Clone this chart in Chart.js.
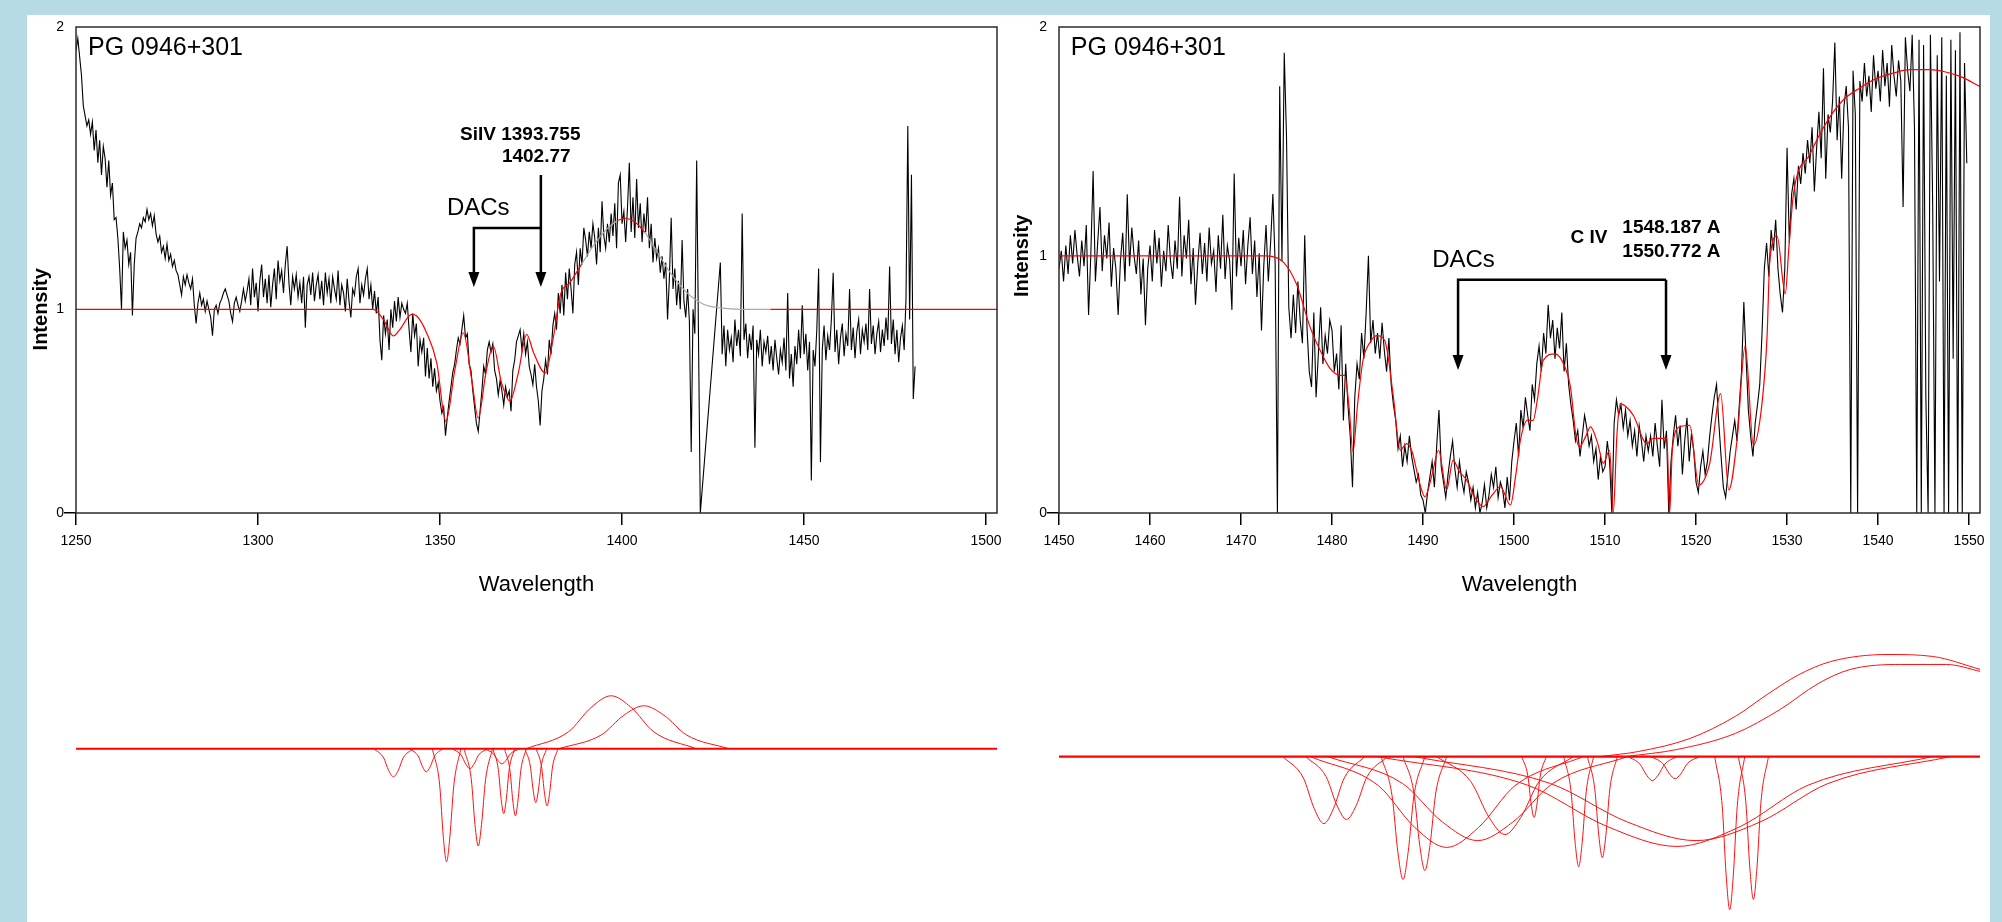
<!DOCTYPE html>
<html>
<head>
<meta charset="utf-8">
<title>PG 0946+301 DACs</title>
<script src="https://cdn.jsdelivr.net/npm/chart.js@4.4.1/dist/chart.umd.min.js"></script>
<style>
  html, body { margin: 0; padding: 0; }
  body { width: 2002px; height: 922px; background: #b7dbe5; position: relative; overflow: hidden; }
  #panel { position: absolute; left: 27px; top: 15px; width: 1963px; height: 907px; background: #fff; }
  canvas { position: absolute; }
</style>
</head>
<body>
<div id="panel"></div>
<canvas id="siTop" width="1030" height="620" style="left:0;top:0"></canvas>
<canvas id="civTop" width="1002" height="620" style="left:1000px;top:0"></canvas>
<canvas id="siComp" width="1030" height="302" style="left:0;top:620px"></canvas>
<canvas id="civComp" width="1002" height="302" style="left:1000px;top:620px"></canvas>
<script>
const FONT = "Arial, 'Liberation Sans', sans-serif";

// ---- Si IV window (left) ----
const siStart = 1250, siStep = 0.5;
const siFlux = [
  2.27, 2.33, 2.24, 2.15, 2.0, 1.95, 1.9, 1.93, 1.86, 1.92, 1.78, 1.88, 1.72, 1.83, 1.66, 1.8, 1.74, 1.6, 1.73, 1.56,
  1.62, 1.44, 1.45, 1.35, 1.2, 1.0, 1.38, 1.3, 1.34, 1.22, 1.28, 0.97, 1.22, 1.35, 1.38, 1.42, 1.4, 1.45, 1.43, 1.49,
  1.44, 1.47, 1.41, 1.46, 1.37, 1.33, 1.36, 1.28, 1.31, 1.25, 1.32, 1.24, 1.27, 1.21, 1.24, 1.19, 1.17, 1.12, 1.07, 1.16,
  1.12, 1.17, 1.13, 1.1, 1.15, 1.02, 0.93, 1.03, 1.08, 1.02, 1.05, 0.99, 1.04, 1.0, 0.96, 0.87, 1.0, 1.02, 0.98, 1.03,
  1.05, 1.08, 1.1, 1.07, 1.04, 0.98, 0.94, 1.03, 1.06, 1.02, 0.99, 1.04, 1.1, 1.04, 1.09, 1.15, 1.02, 1.2, 1.06, 1.13,
  0.99, 1.14, 1.22, 1.06, 1.15, 1.03, 1.17, 1.01, 1.12, 1.2, 1.05, 1.24, 1.14, 1.19, 1.08, 1.22, 1.31, 1.13, 1.02, 1.16,
  1.1, 1.17, 1.06, 1.13, 1.03, 1.16, 0.91, 1.12, 1.16, 1.07, 1.18, 1.04, 1.12, 1.17, 1.05, 1.14, 1.02, 1.18, 1.08, 1.15,
  1.03, 1.16, 1.1, 1.05, 1.19, 1.02, 1.12, 1.08, 0.99, 1.15, 1.04, 0.96, 1.1, 1.07, 1.16, 1.2, 1.03, 1.12, 1.07, 1.15,
  1.2, 1.05, 1.12, 1.0, 1.09, 0.98, 1.06, 0.85, 0.75, 0.97, 0.88, 0.95, 0.8, 1.0, 0.91, 1.04, 0.94, 1.06, 0.96, 1.03,
  1.0, 0.98, 1.03, 0.9, 0.79, 0.98, 0.87, 0.93, 0.72, 0.85, 0.79, 0.86, 0.67, 0.81, 0.66, 0.76, 0.62, 0.71, 0.6, 0.64,
  0.55, 0.49, 0.52, 0.38, 0.47, 0.55, 0.62, 0.69, 0.73, 0.8, 0.86, 0.83, 0.9, 0.97, 0.86, 0.88, 0.73, 0.7, 0.6, 0.52,
  0.44, 0.4, 0.5, 0.6, 0.72, 0.68, 0.8, 0.84, 0.79, 0.83, 0.7, 0.66, 0.58, 0.65, 0.6, 0.53, 0.62, 0.57, 0.6, 0.5,
  0.7, 0.75, 0.84, 0.87, 0.9, 0.8, 0.88, 0.78, 0.84, 0.72, 0.68, 0.63, 0.73, 0.62, 0.55, 0.43, 0.6, 0.66, 0.75, 0.68,
  0.85, 0.78, 0.92, 0.98, 0.9, 1.08, 0.98, 1.12, 0.97, 1.18, 1.05, 1.2, 1.1, 0.98, 1.22, 1.28, 1.12, 1.3, 1.22, 1.4,
  1.34, 1.26, 1.38, 1.3, 1.42, 1.35, 1.22, 1.4, 1.28, 1.53, 1.36, 1.3, 1.42, 1.33, 1.47, 1.36, 1.52, 1.3, 1.62, 1.66,
  1.42, 1.48, 1.33, 1.5, 1.72, 1.38, 1.55, 1.35, 1.64, 1.4, 1.52, 1.33, 1.47, 1.38, 1.55, 1.3, 1.42, 1.23, 1.35, 1.25,
  1.3, 1.18, 1.26, 1.15, 1.23, 0.95, 1.15, 1.45, 1.1, 1.2, 1.02, 1.14, 1.0, 1.34, 1.04, 0.96, 1.1, 0.94, 0.3, 1.0,
  0.88, 1.73, null, 0.0, null, null, null, null, null, null, null, null, null, null, 1.23, 0.78, 0.92, 0.72, 0.9, 0.8,
  0.86, 0.74, 0.95, 0.82, 0.9, 0.77, 1.47, 0.85, 0.93, 0.76, 0.88, 0.8, 0.92, 0.32, 0.85, 0.78, 0.9, 0.72, 0.84, 0.79,
  0.87, 0.73, 0.82, 0.7, 0.85, 0.76, 0.68, 0.8, 0.74, 0.86, 0.7, 1.08, 0.66, 0.78, 0.62, 0.82, 0.73, 0.9, 0.76, 1.02,
  0.78, 0.88, 0.7, 0.84, 0.16, 0.8, 0.72, 0.9, 1.2, 0.25, 0.8, 0.92, 0.75, 0.87, 0.8, 0.95, 1.18, 0.79, 0.9, 0.73,
  0.86, 0.93, 0.77, 0.88, 0.82, 1.1, 0.8, 0.91, 0.76, 0.89, 0.95, 0.78, 0.9, 0.84, 0.93, 0.8, 1.1, 0.83, 0.92, 0.78,
  0.88, 0.94, 0.79, 0.9, 0.82, 0.96, 0.85, 1.21, 0.83, 0.95, 0.78, 0.9, 0.74, 0.86, 0.92, 0.8, 1.05, 1.9, 0.95, 1.66,
  0.56, 0.72
];
const siFit = [[1250, 1], [1331.7, 1], [1334.4, 0.951], [1337.2, 0.869], [1339, 0.902], [1342.2, 0.975], [1343.6, 0.967],
  [1346.3, 0.885], [1349.1, 0.737], [1351.6, 0.45], [1354.1, 0.705], [1356.4, 0.885], [1358.7, 0.655], [1360.5, 0.466],
  [1362.6, 0.688], [1364.6, 0.82], [1366.9, 0.639], [1369.2, 0.55], [1371.5, 0.688], [1373.8, 0.877], [1375.7, 0.787],
  [1378.9, 0.688], [1381.2, 0.869], [1383, 1.066], [1385.7, 1.131], [1388.9, 1.222]];
const siFitGrey = [[1388.9, 1.222], [1392.1, 1.312], [1395.8, 1.394], [1398.6, 1.435]];
const siFitPeak = [[1398.6, 1.435], [1400.8, 1.447], [1403.6, 1.427], [1406.3, 1.378]];
const siFitTail = [[1406.3, 1.378], [1408.6, 1.312], [1413.2, 1.181], [1417.8, 1.082], [1422.4, 1.025], [1427, 1.007], [1433, 1.0], [1440.7, 1.0]];
const siContinuum = [[1440.7, 1], [1503, 1]];
const siXTicks = [1250, 1300, 1350, 1400, 1450, 1500];
const siYTicks = [0, 1, 2.386];
const yTickLabels = ['0', '1', '2'];

// ---- C IV window (right) ----
const civStart = 1450, civStep = 0.25;
const civFlux = [
  0.95, 1.02, 0.9, 1.04, 0.93, 1.08, 0.97, 1.1, 1.0, 0.92, 1.06, 0.96, 1.12, 0.77, 1.01, 1.33, 0.9, 1.05, 1.19, 0.94,
  1.08, 0.99, 1.13, 0.88, 1.03, 0.95, 0.77, 0.98, 1.09, 0.9, 1.24, 0.96, 1.11, 1.0, 0.93, 1.06, 0.85, 0.99, 0.73, 0.95,
  1.04, 0.9, 1.1, 0.97, 1.07, 0.88, 1.02, 0.94, 1.12, 0.98, 0.91, 1.06, 0.95, 1.23, 0.92, 1.08, 0.99, 1.14, 0.89, 1.03,
  0.81, 0.97, 1.09, 0.93, 1.05, 0.9, 1.11, 0.97, 1.02, 0.86, 1.08, 0.95, 1.16, 0.91, 1.04, 0.98, 0.79, 1.32, 0.92, 1.07,
  0.96, 1.1, 0.89, 1.04, 1.15, 0.93, 1.06, 0.84, 1.01, 0.71, 0.96, 1.12, 0.9, 1.05, 1.24, 0.97, 0.0, 1.66, 0.98, 1.79,
  1.46, 0.8, 0.68, 0.85, 0.7, 0.9, 0.75, 0.66, 1.08, 0.72, 0.55, 0.49, 0.78, 0.45, 0.62, 0.8, 0.58, 0.69, 0.62, 0.75,
  0.71, 0.55, 0.62, 0.48, 0.73, 0.36, 0.58, 0.42, 0.3, 0.1, 0.45, 0.58, 0.52, 0.7, 0.6, 0.78, 1.0, 0.66, 0.75, 0.62,
  0.7, 0.6, 0.74, 0.63, 0.55, 0.68, 0.5, 0.42, 0.36, 0.25, 0.3, 0.18, 0.26, 0.2, 0.3, 0.22, 0.17, 0.12, 0.15, 0.07,
  0.05, 0.0, 0.08, 0.14, 0.2, 0.1, 0.26, 0.4, 0.18, 0.12, 0.06, 0.15, 0.22, 0.28, 0.17, 0.1, 0.2, 0.13, 0.08, 0.16,
  0.12, 0.05, 0.1, 0.02, 0.08, 0.0, 0.04, 0.11, 0.02, 0.07, 0.15, 0.1, 0.18, 0.06, 0.12, 0.09, 0.02, 0.14, 0.05, 0.2,
  0.28, 0.35, 0.22, 0.4, 0.33, 0.45, 0.38, 0.32, 0.5, 0.44, 0.58, 0.65, 0.55, 0.7, 0.62, 0.81, 0.68, 0.75, 0.6, 0.72,
  0.64, 0.78, 0.55, 0.66, 0.5, 0.42, 0.36, 0.28, 0.32, 0.22, 0.3, 0.38, 0.33, 0.26, 0.3, 0.2, 0.25, 0.13, 0.22, 0.16,
  0.18, 0.28, 0.2, 0.0, 0.35, 0.44, 0.38, 0.42, 0.33, 0.4, 0.3, 0.36, 0.26, 0.32, 0.22, 0.34, 0.28, 0.2, 0.3, 0.24,
  0.3, 0.22, 0.35, 0.26, 0.18, 0.44, 0.25, 0.32, 0.0, 0.2, 0.3, 0.38, 0.26, 0.34, 0.15, 0.28, 0.37, 0.2, 0.31, 0.24,
  0.12, 0.08, 0.18, 0.24, 0.15, 0.2, 0.3, 0.38, 0.45, 0.5, 0.35, 0.22, 0.1, 0.06, 0.15, 0.24, 0.3, 0.36, 0.28, 0.42,
  0.55, 0.82, 0.6, 0.4, 0.3, 0.22, 0.35, 0.42, 0.5, 0.7, 0.95, 1.05, 0.92, 1.1, 1.02, 1.14, 0.95, 0.85, 0.78, 0.95,
  1.42, 1.05, 1.24, 1.3, 1.18, 1.35, 1.28, 1.4, 1.32, 1.45, 1.36, 1.5, 1.25, 1.42, 1.56, 1.38, 1.73, 1.3, 1.55, 1.48,
  1.6, 1.83, 1.45, 1.62, 1.3, 1.58, 1.66, 1.5, 0.0, 1.72, 1.55, 0.0, 1.68, 1.6, 1.75, 1.62, 1.7, 1.56, 1.78, 1.65,
  1.72, 1.6, 1.8, 1.66, 1.75, 1.58, 1.82, 1.7, 1.62, 1.76, 1.68, 1.19, 1.85, 1.72, 1.64, 1.86, 1.5, 0.0, 1.84, 0.0,
  1.82, 0.45, 0.0, 1.86, 1.2, 0.0, 1.78, 0.9, 1.85, 0.0, 1.7, 0.0, 1.84, 0.6, 1.8, 0.0, 1.87, 0.0, 1.75, 1.36
];
const civFit = [[1450, 1.0], [1472.8, 1.0], [1474.7, 0.974], [1476.1, 0.89], [1477.6, 0.722], [1478.7, 0.632], [1479.8, 0.561],
  [1480.9, 0.535], [1481.4, 0.535], [1481.9, 0.4], [1482.3, 0.238], [1482.8, 0.42], [1483.4, 0.593], [1484.2, 0.665],
  [1484.9, 0.69], [1485.8, 0.67], [1486.7, 0.464], [1487.5, 0.244], [1488.2, 0.27], [1488.8, 0.238], [1489.6, 0.12],
  [1490.2, 0.063], [1491, 0.15], [1491.7, 0.244], [1492.6, 0.09], [1493.3, 0.206], [1494, 0.16], [1494.8, 0.128],
  [1495.7, 0.06], [1496.6, 0.025], [1497.6, 0.07], [1498.5, 0.102], [1499.6, 0.031], [1500.2, 0.15], [1500.7, 0.283],
  [1501.5, 0.361], [1502.1, 0.36], [1502.6, 0.45], [1503.2, 0.593], [1504.5, 0.619], [1505.6, 0.567], [1506.2, 0.49],
  [1506.8, 0.3], [1507.2, 0.257], [1507.9, 0.3], [1508.4, 0.335], [1509.2, 0.27], [1509.8, 0.193], [1510.5, 0.244],
  [1510.9, 0.0], [1511.3, 0.3], [1511.65, 0.425], [1512.4, 0.41], [1513.1, 0.38], [1514.6, 0.27], [1515.3, 0.29],
  [1516.8, 0.29], [1517.1, 0.0], [1517.4, 0.25], [1518.2, 0.335], [1519.3, 0.341], [1520.3, 0.109], [1521.5, 0.193],
  [1522.7, 0.464], [1523.6, 0.09], [1524.5, 0.283], [1525.4, 0.651], [1526.3, 0.264], [1527.2, 0.412], [1527.8, 0.684],
  [1528.1, 0.981], [1528.9, 1.078], [1529.8, 0.852], [1530.2, 1.032], [1530.7, 1.239], [1532.5, 1.394], [1534.4, 1.523],
  [1536.2, 1.607], [1538, 1.653], [1539.9, 1.691], [1541.7, 1.711], [1543.5, 1.724], [1545.7, 1.724], [1547.2, 1.717],
  [1549, 1.698], [1551.2, 1.659]];
const civXTicks = [1450, 1460, 1470, 1480, 1490, 1500, 1510, 1520, 1530, 1540, 1550];
const civYTicks = [0, 1, 1.89];

// ---- fitted components (lower panels), continuum-subtracted ----
const siBase = [[1250, 0], [1503, 0]];
const siParts = [
  [[1331.8, 0], [1334.5, -0.037], [1335.9, -0.09], [1337.2, -0.115], [1338.5, -0.09], [1339.9, -0.037], [1342.6, 0]],
  [[1341.7, 0], [1344, -0.03], [1345.2, -0.074], [1346.2, -0.095], [1347.3, -0.074], [1348.5, -0.03], [1350.7, 0]],
  [[1347.9, 0], [1349.9, -0.149], [1350.9, -0.363], [1351.8, -0.465], [1352.7, -0.363], [1353.8, -0.149], [1355.7, 0]],
  [[1353.4, 0], [1355.8, -0.026], [1357.1, -0.064], [1358.2, -0.082], [1359.3, -0.064], [1360.6, -0.026], [1363, 0]],
  [[1356.6, 0], [1358.6, -0.128], [1359.6, -0.312], [1360.5, -0.4], [1361.4, -0.312], [1362.5, -0.128], [1364.4, 0]],
  [[1362.2, 0], [1364.6, -0.02], [1365.9, -0.048], [1367, -0.062], [1368.1, -0.048], [1369.4, -0.02], [1371.8, 0]],
  [[1364.5, 0], [1366, -0.085], [1366.8, -0.208], [1367.5, -0.267], [1368.2, -0.208], [1369, -0.085], [1370.5, 0]],
  [[1367.7, 0], [1369.2, -0.088], [1370, -0.215], [1370.7, -0.276], [1371.4, -0.215], [1372.2, -0.088], [1373.7, 0]],
  [[1373.3, 0], [1374.8, -0.071], [1375.6, -0.173], [1376.3, -0.222], [1377, -0.173], [1377.8, -0.071], [1379.3, 0]],
  [[1376.4, 0], [1377.9, -0.075], [1378.7, -0.183], [1379.4, -0.235], [1380.1, -0.183], [1380.9, -0.075], [1382.4, 0]],
  [[1373.6, 0], [1385.3, 0.07], [1391.5, 0.17], [1397, 0.218], [1402.5, 0.17], [1408.7, 0.07], [1420.4, 0]],
  [[1382.6, 0], [1394.3, 0.057], [1400.5, 0.138], [1406, 0.177], [1411.5, 0.138], [1417.7, 0.057], [1429.4, 0]]
];
const civBase = [[1450, 0], [1551.2, 0]];
const civParts = [
  [[1474.6, 0], [1476.85, -0.088], [1478.05, -0.215], [1479.1, -0.276], [1480.15, -0.215], [1481.35, -0.088], [1483.6, 0]],
  [[1477.1, 0], [1479.35, -0.083], [1480.55, -0.202], [1481.6, -0.259], [1482.65, -0.202], [1483.85, -0.083], [1486.1, 0]],
  [[1485.4, 0], [1486.6, -0.162], [1487.24, -0.395], [1487.8, -0.506], [1488.36, -0.395], [1489, -0.162], [1490.2, 0]],
  [[1487.8, 0], [1489, -0.15], [1489.64, -0.366], [1490.2, -0.469], [1490.76, -0.366], [1491.4, -0.15], [1492.6, 0]],
  [[1477.6, 0], [1485.1, -0.12], [1489.1, -0.292], [1492.6, -0.374], [1496.1, -0.292], [1500.1, -0.12], [1507.6, 0]],
  [[1479.5, 0], [1487.75, -0.111], [1492.15, -0.27], [1496, -0.346], [1499.85, -0.27], [1504.25, -0.111], [1512.5, 0]],
  [[1491.5, 0], [1495.25, -0.103], [1497.25, -0.25], [1499, -0.321], [1500.75, -0.25], [1502.75, -0.103], [1506.5, 0]],
  [[1500.85, 0], [1501.52, -0.08], [1501.88, -0.196], [1502.2, -0.251], [1502.52, -0.196], [1502.88, -0.08], [1503.55, 0]],
  [[1505.45, 0], [1506.27, -0.145], [1506.71, -0.353], [1507.1, -0.453], [1507.49, -0.353], [1507.93, -0.145], [1508.75, 0]],
  [[1508.05, 0], [1508.87, -0.133], [1509.31, -0.324], [1509.7, -0.416], [1510.09, -0.324], [1510.53, -0.133], [1511.35, 0]],
  [[1512.5, 0], [1513.85, -0.032], [1514.57, -0.077], [1515.2, -0.099], [1515.83, -0.077], [1516.55, -0.032], [1517.9, 0]],
  [[1515, 0], [1516.35, -0.029], [1517.07, -0.071], [1517.7, -0.091], [1518.33, -0.071], [1519.05, -0.029], [1520.4, 0]],
  [[1522.05, 0], [1522.87, -0.202], [1523.31, -0.491], [1523.7, -0.63], [1524.09, -0.491], [1524.53, -0.202], [1525.35, 0]],
  [[1524.65, 0], [1525.47, -0.188], [1525.91, -0.459], [1526.3, -0.588], [1526.69, -0.459], [1527.13, -0.188], [1527.95, 0]],
  [[1485, 0], [1501.5, -0.118], [1510.3, -0.289], [1517.9, -0.37], [1524.8, -0.289], [1532.3, -0.118], [1546, 0]],
  [[1489, 0], [1504, -0.111], [1512.5, -0.27], [1520, -0.346], [1527, -0.27], [1534.5, -0.111], [1548, 0]],
  [[1509.5, 0], [1513.7, 0.021], [1519.3, 0.074], [1524.3, 0.165], [1527.8, 0.255], [1531.3, 0.337], [1534.8, 0.391], [1541.1, 0.42], [1546, 0.412], [1551.3, 0.358]],
  [[1512.3, 0], [1517.9, 0.029], [1524.3, 0.095], [1529.2, 0.193], [1533.4, 0.3], [1536.9, 0.358], [1542.5, 0.379], [1547.5, 0.379], [1551.3, 0.35]]
];

function gridPoints(start, step, flux) {
  return flux.map((v, i) => ({ x: +(start + i * step).toFixed(2), y: v }));
}
function pairs(list) {
  return list.map(([x, y]) => ({ x, y }));
}

// frame, titles, labels and DAC arrows, placed with the chart's own scales
const decor = {
  id: 'decor',
  afterDraw(chart, _args, o) {
    const { ctx, chartArea: a } = chart;
    const px = v => chart.scales.x.getPixelForValue(v);
    const py = v => chart.scales.y.getPixelForValue(v);
    ctx.save();
    ctx.strokeStyle = '#2b2b2b';
    ctx.lineWidth = 1.5;
    ctx.strokeRect(a.left, a.top, a.right - a.left, a.bottom - a.top);

    ctx.fillStyle = '#000';
    ctx.font = `22px ${FONT}`;
    ctx.textAlign = 'center';
    ctx.textBaseline = 'middle';
    ctx.fillText(o.xTitle, (a.left + a.right) / 2, 585);

    ctx.save();
    ctx.translate(o.yTitleX, py(1));
    ctx.rotate(-Math.PI / 2);
    ctx.font = `bold 20px ${FONT}`;
    ctx.fillText(o.yTitle, 0, 0);
    ctx.restore();

    ctx.textAlign = 'left';
    ctx.textBaseline = 'alphabetic';
    o.notes.forEach(n => {
      ctx.font = n.font;
      ctx.fillText(n.text, px(n.x), py(n.y));
    });

    const b = o.bracket;
    const tipY = py(b.tip);
    ctx.strokeStyle = '#000';
    ctx.lineWidth = 2.5;
    ctx.beginPath();
    ctx.moveTo(px(b.left), tipY - 12);
    ctx.lineTo(px(b.left), py(b.bar));
    ctx.lineTo(px(b.right), py(b.bar));
    ctx.moveTo(px(b.right), py(b.rightTop));
    ctx.lineTo(px(b.right), tipY - 12);
    ctx.stroke();
    [b.left, b.right].forEach(v => {
      const x = px(v);
      ctx.beginPath();
      ctx.moveTo(x - 5.5, tipY - 15);
      ctx.lineTo(x + 5.5, tipY - 15);
      ctx.lineTo(x, tipY);
      ctx.closePath();
      ctx.fill();
    });
    ctx.restore();
  }
};

function spectrumChart(id, cfg) {
  const sets = [{ data: gridPoints(cfg.start, cfg.step, cfg.flux), borderColor: '#000', borderWidth: 1.1, spanGaps: true, order: 2 }];
  cfg.fits.forEach(f => sets.push({ data: pairs(f.pts), borderColor: f.color, borderWidth: 1.2, cubicInterpolationMode: 'monotone', order: 1 }));
  sets.forEach(s => { s.pointRadius = 0; s.fill = false; });

  return new Chart(document.getElementById(id), {
    type: 'line',
    data: { datasets: sets },
    options: {
      responsive: false,
      animation: false,
      devicePixelRatio: 1,
      layout: { autoPadding: false, padding: { left: cfg.padLeft, right: cfg.padRight, top: 27, bottom: 0 } },
      plugins: { legend: { display: false }, tooltip: { enabled: false }, decor: cfg.decor },
      scales: {
        x: {
          type: 'linear', min: cfg.xMin, max: cfg.xMax,
          afterBuildTicks: s => { s.ticks = cfg.xTicks.map(v => ({ value: v })); },
          afterFit: s => { s.height = 107; },
          grid: { drawOnChartArea: false, tickLength: 12, color: '#000', lineWidth: 1.5 },
          border: { display: false },
          ticks: { color: '#000', autoSkip: false, maxRotation: 0, padding: 8, font: { family: FONT, size: 14 }, callback: v => String(v) }
        },
        y: {
          min: 0, max: cfg.yMax,
          afterBuildTicks: s => { s.ticks = cfg.yTicks.map(v => ({ value: v })); },
          afterFit: s => { s.width = 40; },
          grid: {
            drawOnChartArea: false, tickLength: 12, lineWidth: 1.5,
            tickColor: c => (c.tick && c.tick.value === 0 ? '#000' : 'rgba(0,0,0,0)')
          },
          border: { display: false },
          ticks: { color: '#000', padding: 0, font: { family: FONT, size: 14 }, callback: (v, i) => yTickLabels[i] }
        }
      }
    },
    plugins: [decor]
  });
}

function componentChart(id, cfg) {
  const sets = [{ data: pairs(cfg.base), borderColor: '#ff0000', borderWidth: 2.2 }];
  cfg.parts.forEach(p => sets.push({ data: pairs(p), borderColor: '#ff1010', borderWidth: 1, cubicInterpolationMode: 'monotone' }));
  sets.forEach(s => { s.pointRadius = 0; s.fill = false; });

  return new Chart(document.getElementById(id), {
    type: 'line',
    data: { datasets: sets },
    options: {
      responsive: false,
      animation: false,
      devicePixelRatio: 1,
      layout: { autoPadding: false, padding: { left: cfg.padLeft, right: cfg.padRight, top: 0, bottom: 0 } },
      plugins: { legend: { display: false }, tooltip: { enabled: false } },
      scales: {
        x: { type: 'linear', display: false, min: cfg.xMin, max: cfg.xMax },
        y: { display: false, min: cfg.yMin, max: cfg.yMax }
      }
    }
  });
}

spectrumChart('siTop', {
  start: siStart, step: siStep, flux: siFlux,
  fits: [
    { pts: siFit, color: '#ff0000' },
    { pts: siFitGrey, color: '#a8a8a8' },
    { pts: siFitPeak, color: '#ff0000' },
    { pts: siFitTail, color: '#a8a8a8' },
    { pts: siContinuum, color: '#ff0000' }
  ],
  xMin: 1250, xMax: 1503, xTicks: siXTicks, yMax: siYTicks[2], yTicks: siYTicks,
  padLeft: 36, padRight: 33,
  decor: {
    xTitle: 'Wavelength', yTitle: 'Intensity', yTitleX: 41,
    notes: [
      { text: 'PG 0946+301', x: 1253.3, y: 2.248, font: `25px ${FONT}` },
      { text: 'SiIV 1393.755', x: 1355.5, y: 1.831, font: `bold 19px ${FONT}` },
      { text: '1402.77', x: 1367.0, y: 1.723, font: `bold 19px ${FONT}` },
      { text: 'DACs', x: 1351.9, y: 1.463, font: `24px ${FONT}` }
    ],
    bracket: { left: 1359.3, right: 1377.7, bar: 1.399, rightTop: 1.659, tip: 1.109 }
  }
});

spectrumChart('civTop', {
  start: civStart, step: civStep, flux: civFlux,
  fits: [{ pts: civFit, color: '#ff0000' }],
  xMin: 1450, xMax: 1551.2, xTicks: civXTicks, yMax: civYTicks[2], yTicks: civYTicks,
  padLeft: 19, padRight: 22,
  decor: {
    xTitle: 'Wavelength', yTitle: 'Intensity', yTitleX: 22,
    notes: [
      { text: 'PG 0946+301', x: 1451.3, y: 1.782, font: `25px ${FONT}` },
      { text: 'DACs', x: 1491.0, y: 0.957, font: `24px ${FONT}` },
      { text: 'C IV', x: 1506.2, y: 1.051, font: `bold 19px ${FONT}` },
      { text: '1548.187 A', x: 1511.9, y: 1.089, font: `bold 19px ${FONT}` },
      { text: '1550.772 A', x: 1511.9, y: 0.996, font: `bold 19px ${FONT}` }
    ],
    bracket: { left: 1493.85, right: 1516.7, bar: 0.907, rightTop: 0.907, tip: 0.556 }
  }
});

componentChart('siComp', {
  base: siBase, parts: siParts, xMin: 1250, xMax: 1503,
  yMin: -0.713, yMax: 0.53, padLeft: 76, padRight: 33
});

componentChart('civComp', {
  base: civBase, parts: civParts, xMin: 1450, xMax: 1551.2,
  yMin: -0.681, yMax: 0.562, padLeft: 59, padRight: 22
});
</script>
</body>
</html>
